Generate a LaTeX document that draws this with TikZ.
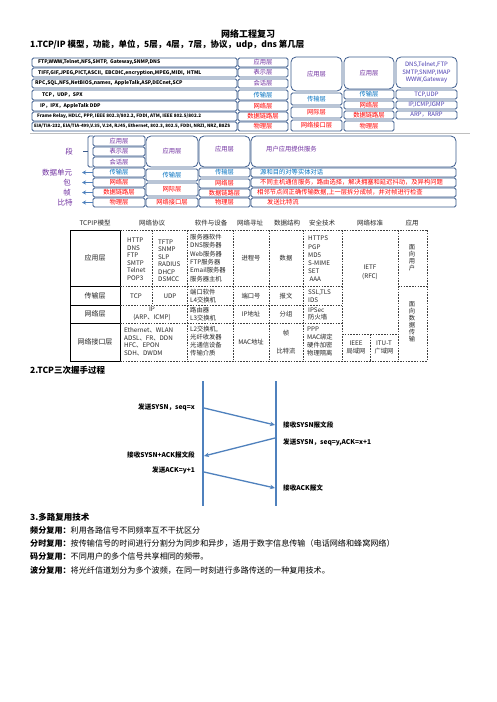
\documentclass[tikz,border=0pt]{standalone}
\usepackage{fontspec}
\setmainfont{Noto Sans CJK SC}
\usetikzlibrary{arrows.meta}
\newcommand\fs[1]{\fontsize{#1}{#1}\selectfont}
\newcommand\fsb[2]{\fontsize{#1}{#2}\selectfont}
\newcommand\bx[7]{\node[#6, minimum width={(#4-#2)*1pt}, minimum height={(#5-#3)*1pt}] (#1) at ({(#2+#4)/2},{(#3+#5)/2}) {#7};}
\definecolor{bord}{HTML}{3B5B8C}
\definecolor{pur}{HTML}{7030A0}
\definecolor{blu}{HTML}{0070C0}
\definecolor{redc}{HTML}{FF0000}
\definecolor{colv}{HTML}{4A3CB0}
\definecolor{hs}{HTML}{4F81BD}
\tikzset{
  lay/.style={draw=bord, line width=0.8pt, rounded corners=1.5pt, fill=white, inner sep=0pt, outer sep=0pt, font=\fs{6.3}},
  big/.style={lay, rounded corners=5pt},
  ptxt/.style={anchor=west, font=\bfseries\fs{5}, inner sep=0pt},
  lt/.style={inner sep=0pt, anchor=west, font=\fs{6.3}},
  ttxt/.style={inner sep=0pt, font=\fsb{6.3}{7.5}, text=black!85},
  tdash/.style={dash pattern=on 1.6pt off 1.2pt, line width=0.45pt, black!75},
  tsol/.style={line width=0.7pt, black},
  hsl/.style={hs, line width=1.4pt},
  hsa/.style={hs, line width=1.3pt, -{Stealth[length=5pt,width=4.5pt]}},
  hst/.style={inner sep=0pt, font=\bfseries\fs{6.6}},
  sec/.style={inner sep=0pt, anchor=west, font=\bfseries\fs{8.5}},
  body/.style={inner sep=0pt, anchor=west, font=\fs{8.1}},
}
\begin{document}
\begin{tikzpicture}[x=1pt,y=-1pt]
\useasboundingbox (0,0) rectangle (496,702);
\fill[white] (0,0) rectangle (496,702);

% titles
\node[inner sep=0pt, font=\bfseries\fs{9}] (title) at (248,34) {网络工程复习};
\node[sec] (h1) at (30,45) {1.TCP/IP 模型，功能，单位，5层，4层，7层，协议，udp，dns 第几层};

% ---------- block 1 ----------
\bx{p1}{32}{58}{237}{67}{lay}{}
\bx{p2}{32}{68}{237}{77}{lay}{}
\bx{p3}{32}{79}{237}{88}{lay}{}
\bx{p4}{32}{90}{237}{100}{lay}{}
\bx{p5}{32}{101}{237}{111}{lay}{}
\bx{p6}{32}{112}{237}{121}{lay}{}
\bx{p7}{32}{122}{237}{131}{lay}{}
\node[ptxt] (p1t) at ([xshift=6pt]p1.west) {FTP,WWW,Telnet,NFS,SMTP,\ \ Gateway,SNMP,DNS};
\node[ptxt] (p2t) at ([xshift=6pt]p2.west) {TIFF,GIF,JPEG,PICT,ASCII,\ \ EBCDIC,encryption,MPEG,MIDI,\ \ HTML};
\node[ptxt] (p3t) at ([xshift=3pt]p3.west) {RPC,SQL,NFS,NetBIOS,names,\ \ AppleTalk,ASP,DECnet,SCP};
\node[ptxt] (p4t) at ([xshift=10pt]p4.west) {TCP，UDP，SPX};
\node[ptxt] (p5t) at ([xshift=8pt]p5.west) {IP，IPX，AppleTalk DDP};
\node[ptxt, font=\bfseries\fs{4.6}] (p6t) at ([xshift=5pt]p6.west) {Frame Relay, HDLC, PPP, IEEE 802.3/802.2, FDDI, ATM, IEEE 802.5/802.2};
\node[ptxt, font=\bfseries\fs{4.45}] (p7t) at ([xshift=2pt]p7.west) {EIA/TIA-232, EIA/TIA-499,V.35, V.24, RJ45, Ethernet, 802.3, 802.5, FDDI, NRZI, NRZ, B8ZS};

\bx{s1}{238}{58}{288}{67}{lay,text=pur}{应用层}
\bx{s2}{238}{68}{288}{77}{lay,text=pur}{表示层}
\bx{s3}{238}{79}{288}{88}{lay,text=pur}{会话层}
\bx{s4}{238}{90}{288}{100}{lay,text=blu}{传输层}
\bx{s5}{238}{101}{288}{111}{lay,text=redc}{网络层}
\bx{s6}{238}{112}{288}{121}{lay,text=redc}{数据链路层}
\bx{s7}{238}{122}{288}{131}{lay,text=redc}{物理层}

\bx{f1}{291}{57}{342}{91}{big,text=pur}{应用层}
\bx{f2}{291}{93}{342}{105}{lay,text=blu}{传输层}
\bx{f3}{291}{107}{342}{118}{lay,text=redc}{网际层}
\bx{f4}{291}{120}{342}{131}{lay,text=redc}{网络接口层}

\bx{v1}{344}{57}{394}{89}{big,text=pur}{应用层}
\bx{v2}{344}{90}{394}{99}{lay,text=blu}{传输层}
\bx{v3}{344}{101}{394}{109}{lay,text=redc}{网络层}
\bx{v4}{344}{111}{394}{119}{lay,text=redc}{数据链路层}
\bx{v5}{344}{121}{394}{131}{lay,text=redc}{物理层}

\bx{q1}{396}{57}{457}{88}{big,text=colv,align=center,font=\fsb{6}{7.6}}{DNS,Telnet,FTP\\SMTP,SNMP,IMAP\\WWW,Gateway}
\bx{q2}{396}{90}{457}{99}{lay,text=colv,font=\fs{6}}{TCP,UDP}
\bx{q3}{396}{101}{457}{109}{lay,text=colv,font=\fs{6}}{IP,ICMP,IGMP}
\bx{q4}{396}{111}{457}{119}{lay,text=colv,font=\fs{6}}{ARP，RARP}

\draw[black!25, line width=1pt] (30,133.5) -- (470,133.5);

% ---------- block 2 ----------
\bx{a1}{93}{136}{145}{146}{lay,text=pur}{应用层}
\bx{a2}{93}{147}{145}{156}{lay,text=pur}{表示层}
\bx{a3}{93}{157}{145}{167}{lay,text=pur}{会话层}
\bx{a4}{93}{168}{145}{177}{lay,text=blu}{传输层}
\bx{a5}{93}{178}{145}{187}{lay,text=redc}{网络层}
\bx{a6}{93}{188}{145}{197}{lay,text=redc}{数据链路层}
\bx{a7}{93}{198}{145}{207}{lay,text=redc}{物理层}

\bx{b1}{146}{136}{198}{167}{big,text=pur}{应用层}
\bx{b2}{146}{169}{198}{181}{lay,text=blu}{传输层}
\bx{b3}{146}{183}{198}{196}{lay,text=redc}{网际层}
\bx{b4}{146}{198}{198}{207}{lay,text=redc}{网络接口层}

\bx{c1}{199}{136}{250}{167}{big}{}
\node[inner sep=0pt, font=\fs{6.3}, text=pur] (c1t) at (224.5,149) {应用层};
\bx{c2}{199}{168}{250}{177}{lay,text=blu}{传输层}
\bx{c3}{199}{179}{250}{188}{lay,text=redc}{网络层}
\bx{c4}{199}{189}{250}{197}{lay,text=redc}{数据链路层}
\bx{c5}{199}{198}{250}{207}{lay,text=redc}{物理层}

\bx{d1}{251}{136}{456}{167}{big}{}
\bx{d2}{251}{168}{456}{177}{lay}{}
\bx{d3}{251}{178}{456}{187}{lay}{}
\bx{d4}{251}{188}{456}{197}{lay}{}
\bx{d5}{251}{198}{456}{207}{lay}{}
\node[lt, text=pur] (d1t) at (266,149) {用户应用提供服务};
\node[lt, text=blu] (d2t) at (260,172.5) {源和目的对等实体对话};
\node[lt, text=redc] (d3t) at (260,182.5) {不同主机通信服务，路由选择，解决拥塞和延迟抖动，及异构问题};
\node[lt, text=redc] (d4t) at (257,192.5) {相邻节点间正确传输数据,上一层拆分成帧，并对帧进行检查};
\node[lt, text=redc] (d5t) at (267,202.5) {发送比特流};

% brace and units
\draw[bord, line width=0.8pt, rounded corners=1.5pt] (a1.north west) -- ++(-5,0) |- (a3.south west);
\coordinate (bt) at ([xshift=-5pt]a2.west);
\draw[bord, line width=0.8pt] (bt) -- ++(-5,0);
\node[inner sep=0pt, font=\fs{7.5}, text=pur] (seg) at (69,152) {段};
\node[inner sep=0pt, font=\fs{7.5}, text=pur] (u4) at (57,172.5) {数据单元};
\node[inner sep=0pt, font=\fs{7.5}, text=pur] (u5) at (67,182.5) {包};
\node[inner sep=0pt, font=\fs{7.5}, text=pur] (u6) at (67,192.5) {帧};
\node[inner sep=0pt, font=\fs{7.5}, text=pur] (u7) at (65,202.5) {比特};
\coordinate (e4) at (82,172.5);
\coordinate (e5) at (82,182.5);
\coordinate (e6) at (82,192.5);
\coordinate (e7) at (82,202.5);
\foreach \i in {4,5,6,7} \draw[hs, line width=1pt, -{Stealth[length=4pt,width=4pt]}] (a\i.west) -- (e\i);

% ---------- table ----------
\foreach \x/\t in {95/TCPIP模型,152/网络协议,211/软件与设备,250/网络寻址,287/数据结构,322/安全技术,370/网络标准,412/应用}
  \node[inner sep=0pt, font=\fs{6.5}, text=black!85] at (\x,223) {\t};
% solid first column
\draw[tsol] (120,230) -- (70,230) -- (70,361) -- (120,361) -- cycle;
\draw[tsol] (70,286) -- (120,286);
\draw[tsol] (70,305) -- (120,305);
\draw[tsol] (70,323) -- (120,323);
% dashed grid
\draw[tdash] (120,230) -- (427,230);
\draw[tdash] (120,286) -- (342,286);
\draw[tdash] (398,286) -- (427,286);
\draw[tdash] (120,305) -- (342,305);
\draw[tdash] (120,323) -- (342,323);
\draw[tdash] (342,334) -- (398,334);
\draw[tdash] (120,361) -- (427,361);
\draw[tdash] (152,230) -- (152,305);
\foreach \x in {187,233,269,303,342,398,427} \draw[tdash] (\x,230) -- (\x,361);
\draw[tdash] (370,334) -- (370,361);

\node[ttxt, font=\fs{7}] (t11) at (95,258) {应用层};
\node[ttxt, align=left, anchor=west] (t12) at (127,259) {HTTP\\DNS\\FTP\\SMTP\\Telnet\\POP3};
\node[ttxt, align=left, anchor=west] (t13) at (158,260.5) {TFTP\\SNMP\\SLP\\RADIUS\\DHCP\\DSMCC};
\node[ttxt, align=left, anchor=west, font=\fsb{6.3}{8.3}] (t14) at (190,258) {服务器软件\\DNS服务器\\Web服务器\\FTP服务器\\Email服务器\\服务器主机};
\node[ttxt] (t15) at (251,258) {进程号};
\node[ttxt] (t16) at (286,258) {数据};
\node[ttxt, align=left, anchor=west, font=\fsb{6.3}{8.2}] (t17) at (308,259) {HTTPS\\PGP\\MD5\\S-MIME\\SET\\\ AAA};
\node[ttxt, align=center, font=\fsb{6.3}{9}] (t18) at (370,272) {IETF\\(RFC)};
\node[ttxt, align=center, font=\fsb{6.3}{7}] (t19) at (412,258) {面\\向\\用\\户};

\node[ttxt, font=\fs{7}] (t21) at (95,295.5) {传输层};
\node[ttxt] (t22) at (136,296) {TCP};
\node[ttxt] (t23) at (170,296) {UDP};
\node[ttxt, align=left, anchor=west] (t24) at (190,296) {端口软件\\L4交换机};
\node[ttxt] (t25) at (251,296) {端口号};
\node[ttxt] (t26) at (286,296) {报文};
\node[ttxt, align=left, anchor=west] (t27) at (308,296) {SSL,TLS\\IDS};
\node[ttxt, align=center, font=\fsb{6.3}{7}] (t29) at (412,322) {面\\向\\数\\据\\传\\输};

\node[ttxt, font=\fs{7}] (t31) at (95,314) {网络层};
\node[ttxt, align=center] (t32) at (152,314) {IP\\(ARP、ICMP)};
\node[ttxt, align=left, anchor=west] (t34) at (190,314) {路由器\\L3交换机};
\node[ttxt] (t35) at (251,314) {IP地址};
\node[ttxt] (t36) at (286,314) {分组};
\node[ttxt, align=left, anchor=west] (t37) at (308,314) {IPSec\\防火墙};

\node[ttxt, font=\fs{7}] (t41) at (95,342) {网络接口层};
\node[ttxt, align=left, anchor=west] (t42) at (124,341.5) {Ethernet、WLAN\\ADSL、FR、DDN\\HFC、EPON\\SDH、DWDM};
\node[ttxt, align=left, anchor=west, font=\fsb{6.3}{8}] (t44) at (190,341.5) {L2交换机,\\光纤收发器\\光通信设备\\传输介质};
\node[ttxt] (t45) at (251,342) {MAC地址};
\node[ttxt] (t46a) at (286,333) {帧};
\node[ttxt] (t46b) at (286,351) {比特流};
\node[ttxt, align=left, anchor=west, font=\fsb{6.3}{8}] (t47) at (307,341.5) {PPP\\MAC绑定\\硬件加密\\物理隔离};
\node[ttxt, align=center, font=\fsb{6.3}{8.5}] (t48a) at (356,347.5) {IEEE\\局域网};
\node[ttxt, align=center, font=\fsb{6.3}{8.5}] (t48b) at (384,347.5) {ITU-T\\广域网};

% ---------- section 2 ----------
\node[sec] (h2) at (30,370) {2.TCP三次握手过程};
\coordinate (Lt) at (203,381);
\coordinate (Lb) at (203,506);
\coordinate (Rt) at (276,381);
\coordinate (Rb) at (276,506);
\draw[hsl] (Lt) -- (Lb);
\draw[hsl] (Rt) -- (Rb);
\coordinate (m1s) at (204,408);
\coordinate (m1e) at (275,425);
\coordinate (m2s) at (275,438);
\coordinate (m2e) at (204,456);
\coordinate (m3s) at (204,472);
\coordinate (m3e) at (275,488);
\draw[hsa] (m1s) -- (m1e);
\draw[hsa] (m2s) -- (m2e);
\draw[hsa] (m3s) -- (m3e);
\node[hst, anchor=east] (l1) at (195,407) {发送SYSN，seq=x};
\node[hst, anchor=west] (l2) at (283,425) {接收SYSN报文段};
\node[hst, anchor=west] (l3) at (283,442) {发送SYSN，seq=y,ACK=x+1};
\node[hst, anchor=east] (l4) at (195,455) {接收SYSN+ACK报文段};
\node[hst, anchor=east] (l5) at (195,470) {发送ACK=y+1};
\node[hst, anchor=west] (l6) at (283,488) {接收ACK报文};

% ---------- section 3 ----------
\node[sec] (h3) at (30,517) {3.多路复用技术};
\node[body] (m1) at (30,530) {\textbf{频分复用：}利用各路信号不同频率互不干扰区分};
\node[body] (m2) at (30,543) {\textbf{分时复用：}按传输信号的时间进行分割分为同步和异步，适用于数字信息传输（电话网络和蜂窝网络）};
\node[body] (m3) at (30,556) {\textbf{码分复用：}不同用户的多个信号共享相同的频带。};
\node[body] (m4) at (30,570) {\textbf{波分复用：}将光纤信道划分为多个波频，在同一时刻进行多路传送的一种复用技术。};
\end{tikzpicture}
\end{document}
